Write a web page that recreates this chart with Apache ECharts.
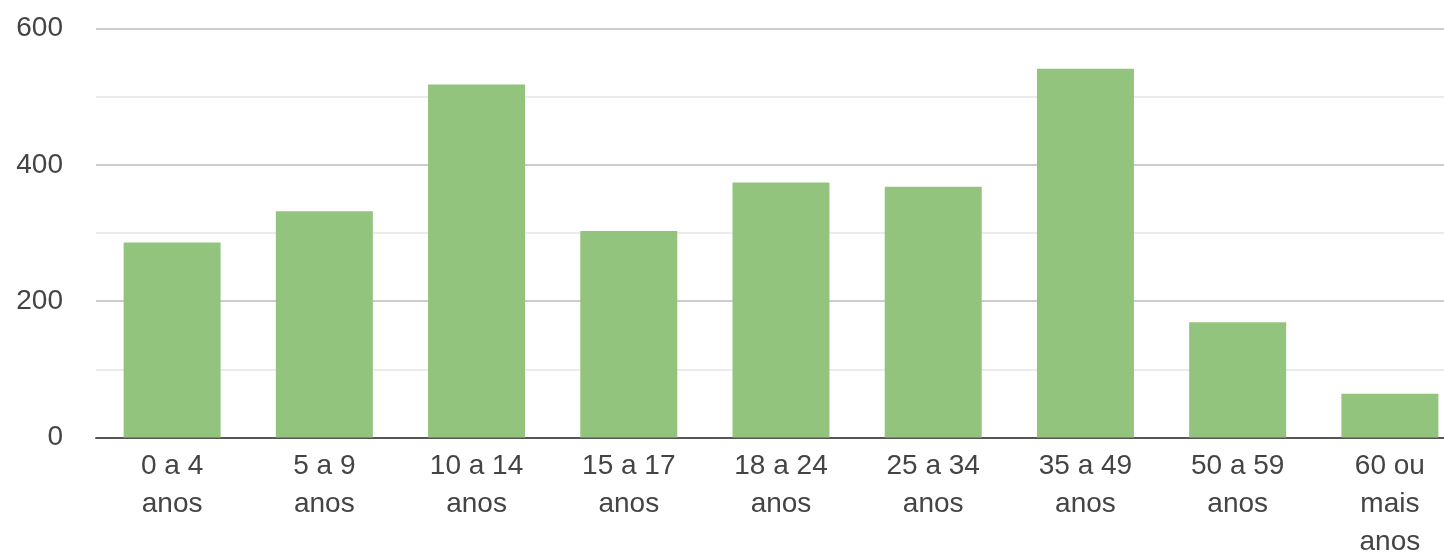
<!DOCTYPE html>
<html>
<head>
<meta charset="utf-8">
<style>
  html, body { margin: 0; padding: 0; background: #fff; }
  #chart { width: 1444px; height: 553px; }
</style>
<script src="https://cdn.jsdelivr.net/npm/echarts@6/dist/echarts.min.js"></script>
</head>
<body>
<div id="chart"></div>
<script>
const faixas = ['0 a 4\nanos', '5 a 9\nanos', '10 a 14\nanos', '15 a 17\nanos', '18 a 24\nanos',
  '25 a 34\nanos', '35 a 49\nanos', '50 a 59\nanos', '60 ou\nmais\nanos']
const valores = [286, 332, 518, 303, 374, 368, 541, 169, 64]
const yTicks = [0, 200, 400, 600]

const chart = echarts.init(document.getElementById('chart'))
const options = {
  animation: false,
  grid: {
    left: 96,
    top: 28.5,
    width: 1370,
    height: 409,
    outerBoundsMode: 'none',
    containLabel: false
  },
  xAxis: {
    type: 'category',
    data: faixas,
    axisTick: { show: false },
    axisLine: {
      lineStyle: { color: '#555', width: 2 }
    },
    axisLabel: {
      color: '#444',
      fontSize: 28,
      lineHeight: 38,
      margin: 10,
      interval: 0,
      fontFamily: 'Liberation Sans, Arial, sans-serif'
    }
  },
  yAxis: {
    type: 'value',
    min: 0,
    max: 600,
    interval: 100,
    axisLine: { show: false },
    axisTick: { show: false },
    axisLabel: {
      color: '#444',
      fontSize: 28,
      margin: 33,
      fontFamily: 'Liberation Sans, Arial, sans-serif',
      formatter: v => yTicks.includes(v) ? String(v) : ''
    },
    splitLine: {
      lineStyle: {
        color: ['#cccccc', '#ebebeb'],
        width: 2
      }
    }
  },
  series: [{
    type: 'bar',
    barWidth: 97,
    itemStyle: { color: '#93c47d' },
    data: valores
  }]
}
chart.setOption(options)
</script>
</body>
</html>
